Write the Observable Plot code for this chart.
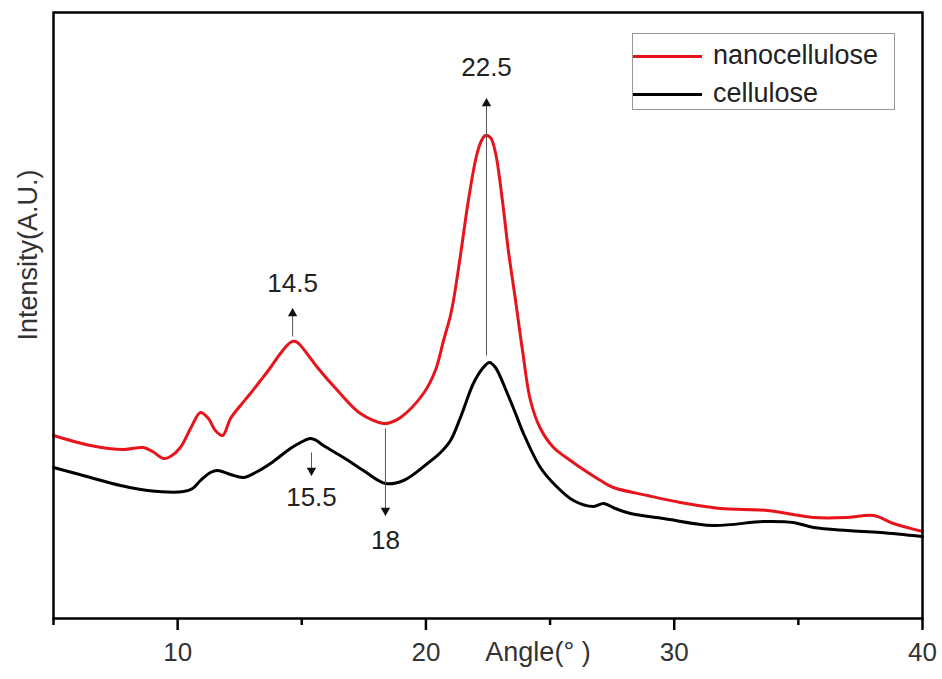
<!DOCTYPE html>
<html><head><meta charset="utf-8">
<script src="https://cdn.jsdelivr.net/npm/d3@7"></script>
<script src="https://cdn.jsdelivr.net/npm/@observablehq/plot@0.6"></script>
<style>
body{margin:0;background:#fff;}
#wrap{position:relative;width:942px;height:679px;font-family:"Liberation Sans",Arial,sans-serif;}
#legend{position:absolute;left:632px;top:33px;width:263px;height:77px;border:1px solid #999;box-sizing:border-box;background:#fff;}
.lrow{position:absolute;left:0;width:100%;height:30px;}
.lline{position:absolute;left:0;width:69px;height:3px;top:13px;}
.ltext{position:absolute;left:80px;top:0;font-size:27px;line-height:27px;color:#222;white-space:nowrap;}
</style></head><body><div id="wrap"></div>
<script>
const seriesNames = ["nanocellulose", "cellulose"];
const seriesColors = ["#e8141c", "#000000"];

const nanoAngle = [5.0, 6.49, 7.82, 8.62, 8.99, 9.43, 9.71, 10.11, 10.52, 10.92, 11.24, 11.52, 11.81, 12.13, 12.53, 12.93, 13.34, 13.74, 14.14, 14.54, 14.75, 14.95, 15.63, 16.44, 17.36, 18.29, 18.57, 18.98, 19.90, 20.38, 20.71, 20.99, 21.11, 21.39, 21.71, 22.04, 22.24, 22.40, 22.60, 22.80, 23.08, 23.32, 23.61, 23.89, 24.21, 24.61, 25.14, 25.82, 26.22, 27.03, 27.55, 28.92, 30.25, 31.86, 33.76, 35.61, 36.98, 38.03, 38.83, 40.0];
const nanoIntensity = [183, 173, 169, 171, 167, 160, 162, 171, 190, 206, 200, 188, 183, 200, 213, 225, 238, 251, 265, 276, 277, 273, 251, 228, 205, 195, 196, 201, 225, 248, 278, 303, 318, 363, 418, 463, 478, 483, 481, 466, 418, 368, 318, 268, 218, 190, 171, 158, 151, 138, 131, 123, 116, 110, 108, 101, 101, 103, 95, 87];

const celAngle = [5.0, 6.49, 7.70, 8.79, 10.24, 10.60, 10.92, 11.32, 11.60, 12.13, 12.65, 13.14, 13.74, 14.54, 14.95, 15.35, 15.59, 15.87, 16.68, 17.48, 18.37, 19.10, 20.06, 20.59, 20.99, 21.39, 21.91, 22.28, 22.56, 22.80, 23.28, 23.61, 23.93, 24.61, 25.22, 25.94, 26.75, 27.15, 27.63, 28.24, 29.57, 31.58, 33.59, 34.80, 35.61, 36.98, 38.31, 40.0];
const celIntensity = [151, 141, 133, 128, 127, 130, 138, 146, 148, 144, 141, 146, 155, 170, 176, 180, 178, 173, 161, 148, 135, 138, 155, 166, 178, 201, 235, 250, 256, 251, 225, 205, 185, 151, 133, 118, 112, 115, 110, 105, 100, 93, 97, 96, 91, 88, 86, 82];

const xTicksMajor = [10, 20, 30, 40];
const xTicksMinor = [5, 15, 25, 35];

// peak annotations (angle position, arrow start/end intensity, label intensity)
const peakLabels = ["22.5", "14.5", "15.5", "18"];
const peakAngle = [22.44, 14.63, 15.39, 18.37];
const arrowFrom = [263, 282, 166, 190];
const arrowTo = [520, 310, 143, 103];
const labelAt = [551, 335, 121, 78];

const xLabel = "Angle(° )";
const yLabel = "Intensity(A.U.)";

const curves = [
  ...nanoAngle.map((a, i) => ({angle: a, intensity: nanoIntensity[i], series: seriesNames[0]})),
  ...celAngle.map((a, i) => ({angle: a, intensity: celIntensity[i], series: seriesNames[1]}))
];
const notes = peakLabels.map((t, i) => ({text: t, x: peakAngle[i], y1: arrowFrom[i], y2: arrowTo[i], ly: labelAt[i], up: arrowTo[i] > arrowFrom[i]}));

const font = "'Liberation Sans', Arial, sans-serif";
const chart = Plot.plot({
  width: 942, height: 679,
  marginLeft: 53, marginRight: 20, marginTop: 12, marginBottom: 61,
  style: {fontFamily: font, background: "#fff"},
  x: {domain: [5, 40]},
  y: {domain: [0, 606], axis: null},
  color: {domain: seriesNames, range: seriesColors},
  marks: [
    Plot.line(curves, {x: "angle", y: "intensity", z: "series", stroke: "series", strokeWidth: 3, curve: "catmull-rom"}),
    Plot.link(notes, {x1: "x", x2: "x", y1: "y1", y2: "y2", stroke: "#555", strokeWidth: 1}),
    Plot.dot(notes.filter(d => d.up), {x: "x", y: "y2", symbol: "triangle", r: 3.5, fill: "#111", stroke: null, dy: 5}),
    Plot.dot(notes.filter(d => !d.up), {x: "x", y: "y2", symbol: "triangle", r: 3.5, fill: "#111", stroke: null, rotate: 180, dy: -5}),
    Plot.text(notes, {x: "x", y: "ly", text: "text", fontSize: 26, fill: "#222"}),
    Plot.axisX({ticks: xTicksMinor, tickSize: 7, tickFormat: () => "", strokeWidth: 2.5, label: null}),
    Plot.axisX({ticks: xTicksMajor, tickSize: 12, tickPadding: 12, fontSize: 26, strokeWidth: 2.5, fill: "#333", label: null}),
    Plot.frame({stroke: "#000", strokeWidth: 2.5}),
    Plot.text([xLabel], {frameAnchor: "bottom", text: d => d, dx: 50, dy: 42, fontSize: 27, fill: "#333"}),
    Plot.text([yLabel], {frameAnchor: "left", text: d => d, rotate: -90, dx: -25, dy: 25, fontSize: 27, fill: "#333"})
  ]
});
const wrap = document.getElementById("wrap");
wrap.appendChild(chart);

const legend = document.createElement("div");
legend.id = "legend";
seriesNames.forEach((name, i) => {
  const row = document.createElement("div");
  row.className = "lrow";
  row.style.top = (8 + i * 38) + "px";
  const line = document.createElement("div");
  line.className = "lline";
  line.style.background = seriesColors[i];
  const txt = document.createElement("div");
  txt.className = "ltext";
  txt.textContent = name;
  row.appendChild(line); row.appendChild(txt);
  legend.appendChild(row);
});
wrap.appendChild(legend);
</script></body></html>
